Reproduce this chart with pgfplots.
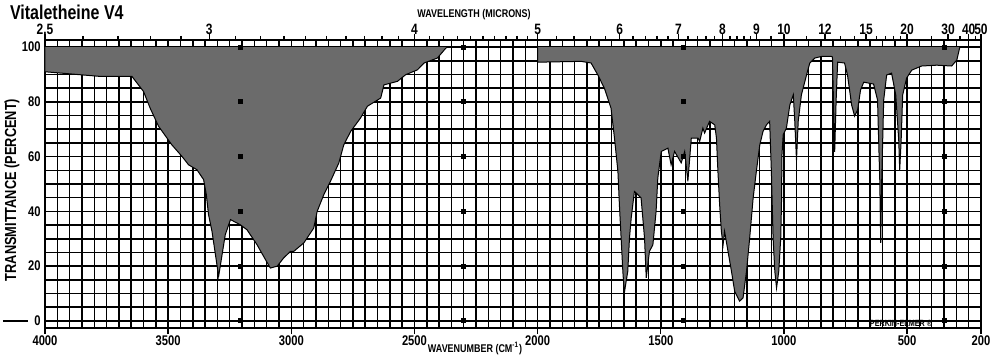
\documentclass[border=0pt]{standalone}
\usepackage{pgfplots}
\pgfplotsset{compat=1.18}
\usepackage{fontspec}
\setmainfont{Liberation Sans}[FakeStretch=0.8]

\begin{document}
\begin{tikzpicture}[x=1pt,y=1pt]
\path[use as bounding box] (-22.5,-15.5) rectangle (478,164);
\begin{axis}[
  at={(0,0)}, anchor=south west, scale only axis,
  width=468pt, height=144pt,
  x dir=reverse, xmin=200, xmax=4000, ymin=-2.6, ymax=102.6,
  axis line style={line width=0.8pt},
  xtick={4000,3500,3000,2500,2000,1500,1000,500,200},
  xticklabels={4000,3500,3000,2500,2000,1500,1000,500,200},
  xtick pos=left,
  ytick={0,20,40,60,80,100},
  yticklabels={0,20,40,60,80,100},
  ytick pos=left,
  minor xtick={250,300,...,3950},
  minor ytick={5,10,...,95},
  grid=both,
  major grid style={black, line width=0.75pt},
  minor grid style={black, line width=0.75pt},
  tick align=outside,
  major tick length=3pt,
  minor tick length=0pt,
  ytick style={draw=none},
  xtick style={black, line width=0.7pt},
  xticklabel style={font=\bfseries\fontsize{7}{7}\selectfont, inner sep=0.5pt},
  yticklabel style={font=\bfseries\fontsize{7}{7}\selectfont, inner sep=1pt, xshift=2pt},
  /pgf/number format/assume math mode=true,
]
\addplot[fill=black!58, draw=black, line width=0.5pt] coordinates {
(4000,100) (4000,91.0) (3776,89.3) (3647,89.3) (3600,83.8) (3573,77.7) (3539,71.1)
(3485,64.3) (3444,60.1) (3417,57.0) (3383,55.2) (3356,51.6) (3345,46.1) (3336,38.8)
(3322,32.7) (3308,24.2) (3295,16.3) (3281,24.2) (3268,31.5) (3247,37.0) (3207,35.1)
(3180,33.3) (3139,27.8) (3105,22.4) (3085,19.3) (3057,20.0) (3031,23.0) (3003,25.4)
(2990,25.4) (2949,28.5) (2909,33.9) (2895,40.0) (2868,46.1) (2841,51.0) (2807,57.7)
(2787,64.3) (2759,69.2) (2719,74.1) (2691,78.4) (2637,81.4) (2624,86.2) (2569,87.5)
(2536,89.9) (2488,91.7) (2461,94.2) (2407,96.0) (2373,99.6) (2366,100)
};
\addplot[fill=black!58, draw=black, line width=0.5pt] coordinates {
(2000,100) (2000,94.5) (1824,94.8) (1783,94.2) (1756,89.9) (1729,85.0) (1702,77.7)
(1688,66.8) (1674,54.6) (1668,42.4) (1661,30.3) (1654,18.1) (1648,10.2) (1634,18.1)
(1627,30.3) (1620,37.6) (1607,47.3) (1592,46.0) (1580,44.9) (1566,30.3) (1559,15.7)
(1546,25.4) (1532,27.8) (1519,40.0) (1512,52.2) (1498,61.9) (1471,63.1) (1458,57.0)
(1444,61.9) (1417,57.7) (1403,61.9) (1390,51.0) (1376,66.8) (1349,66.8) (1342,65.6)
(1329,70.4) (1322,68.6) (1302,72.9) (1281,71.6) (1274,66.8) (1268,54.6) (1261,42.4)
(1254,32.7) (1247,27.8) (1241,32.7) (1227,25.4) (1213,18.1) (1200,10.8) (1180,7.2)
(1166,8.4) (1152,18.1) (1139,30.3) (1125,44.9) (1112,54.6) (1098,64.3) (1085,69.2)
(1071,71.6) (1058,72.9) (1051,54.6) (1044,30.3) (1037,18.1) (1030,12.0) (1021,18.1)
(1013,30.3) (1010,42.4) (1008,60.7) (1003,68.0) (990,70.4) (976,78.9) (962,82.6)
(956,72.9) (949,58.7) (942,72.9) (929,82.6) (908,89.9) (895,94.2) (875,96.0)
(847,96.6) (807,96.6) (803,96.4) (799,80.7) (794,61.7) (788,80.7) (782,94.5)
(754,94.2) (742,89.8) (725,78.8) (713,74.8) (701,77.0) (689,84.3) (676,87.2)
(636,86.5) (620,80.7) (611,51.5) (607,28.5) (603,51.5) (595,80.7) (583,89.8)
(563,90.5) (546,82.5) (534,66.1) (530,55.1) (524,66.1) (518,82.5) (502,88.7)
(481,91.6) (441,93.1) (380,93.4) (319,93.1) (298,95.3) (286,100)
};
\addplot[only marks, mark=square*, mark size=1pt, mark options={fill=black, draw=black}] coordinates {
(3207,0) (3207,20) (3207,40) (3207,60) (3207,80) (3207,100)
(2300,0) (2300,20) (2300,40) (2300,60) (2300,80) (2300,100)
(1409,0) (1409,20) (1409,40) (1409,60) (1409,80) (1409,100)
(347,0) (347,20) (347,40) (347,60) (347,80) (347,100)
};
\end{axis}
\begin{axis}[
  at={(0,0)}, anchor=south west, scale only axis,
  width=468pt, height=144pt,
  x dir=reverse, xmin=200, xmax=4000, ymin=-2.6, ymax=102.6,
  axis x line*=top, axis y line=none,
  axis line style={line width=0.8pt},
  xtick={4000,3333.3,2500,2000,1666.7,1428.6,1250,1111.1,1000,833.3,666.7,500,333.3,250,200},
  xticklabels={2.5,3,4,5,6,7,8,9,10,12,15,20,30,40,50},
  minor xtick={3846.2,3703.7,3571.4,3448.3,3225.8,3125,3030.3,2941.2,2857.1,2777.8,2702.7,2631.6,2564.1,
    2439.0,2381.0,2325.6,2272.7,2222.2,2173.9,2127.7,2083.3,2040.8,1923.1,1851.9,1785.7,1724.1,
    1612.9,1562.5,1515.2,1470.6,1388.9,1351.4,1315.8,1282.1,1219.5,1190.5,1162.8,1136.4,1052.6,
    909.1,769.2,714.3,625,588.2,555.6,526.3,400,285.7,222.2},
  tick align=outside,
  major tick length=3pt,
  minor tick length=2pt,
  every tick/.style={black, line width=0.7pt},
  xticklabel style={font=\bfseries\fontsize{7.5}{7.5}\selectfont, inner sep=0pt, yshift=-0.5pt},
]
\end{axis}
\node[anchor=west, font=\bfseries\fontsize{10}{10}\selectfont] at (-21,158) {Vitaletheine V4};
\node[font=\bfseries\fontsize{5.6}{6}\selectfont] at (214.5,156.5) {WAVELENGTH (MICRONS)};
\node[font=\bfseries\fontsize{5.6}{6}\selectfont] at (215,-10) {WAVENUMBER (CM\textsuperscript{-1})};
\node[rotate=90, font=\bfseries\fontsize{8}{8}\selectfont] at (-16.5,69) {TRANSMITTANCE (PERCENT)};
\draw[line width=0.9pt] (-21,3.5) -- (-8.5,3.5);
\node[anchor=south, font=\bfseries\fontsize{4.5}{5}\selectfont, inner sep=0.3pt] at (428,0.3) {PERKIN-ELMER \textregistered};
\end{tikzpicture}
\end{document}
